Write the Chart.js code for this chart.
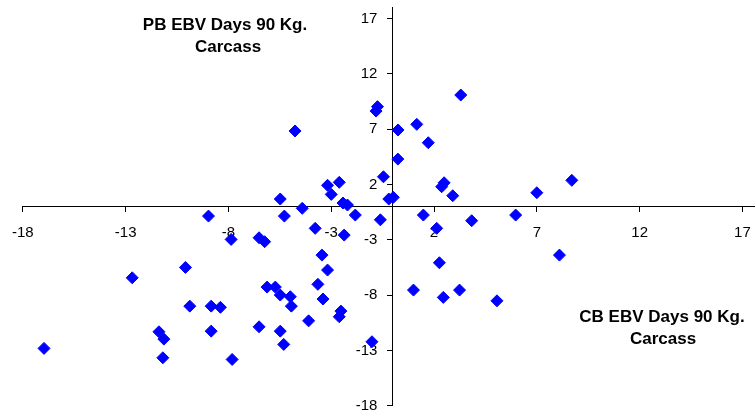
<!DOCTYPE html>
<html>
<head>
<meta charset="utf-8">
<script src="https://cdn.jsdelivr.net/npm/chart.js@4.4.0/dist/chart.umd.min.js"></script>
<style>
  html, body { margin: 0; padding: 0; background: #ffffff; overflow: hidden; }
  #wrap { width: 755px; height: 411px; position: relative; overflow: hidden; }
  #c { position: absolute; left: 0; top: -15px; }
</style>
</head>
<body>
<div id="wrap"><canvas id="c" width="770" height="450"></canvas></div>
<script>
// CB EBV (x) and PB EBV (y), Days to 90 Kg carcass
const cbEbv = [
  -4.76, -5.48, -8.97, -5.28, -4.41, -3.18, -3.00, -2.61, -2.43, -2.21,
  -1.83, -0.75, -0.82, -0.46, -0.61, -0.20, 0.02, 0.25, 0.24, 1.16,
  1.72, 1.48, 2.37, 2.49, 2.91, 3.30, 3.83, 5.97, 7.00, 8.70,
  8.10, 5.06, 3.24, -2.37, -3.45, -3.18, -3.65, -3.40, -2.53, -2.61,
  -1.02, 2.13, 2.26, 1.00, 2.45, -3.78, -7.87, -6.51, -6.24, -10.09,
  -6.12, -5.72, -5.48, -4.99, -4.94, -9.88, -8.84, -8.39, -4.10, -8.84,
  -6.51, -5.48, -5.31, -7.82, -12.68, -11.38, -11.14, -16.97, -11.19
];
const pbEbv = [
  6.83, 0.68, -0.86, -0.86, -0.16, 1.92, 1.10, 2.19, 0.32, 0.14,
  -0.77, 9.03, 8.63, 2.69, -1.20, 0.68, 0.83, 6.92, 4.29, 7.43,
  5.77, -0.77, 1.79, 2.15, 0.98, 10.08, -1.28, -0.77, 1.25, 2.37,
  -4.39, -8.52, -7.55, -2.58, -4.39, -5.74, -7.03, -8.36, -9.45, -9.96,
  -12.22, -1.97, -5.08, -7.55, -8.21, -1.97, -2.97, -2.82, -3.18, -5.50,
  -7.28, -7.28, -8.00, -8.15, -9.00, -9.00, -9.00, -9.11, -10.33, -11.26,
  -10.87, -11.26, -12.46, -13.82, -6.44, -11.32, -11.98, -12.82, -13.67
];
const tickValues = [-18, -13, -8, -3, 2, 7, 12, 17];
const yTitleLines = ['PB EBV Days 90 Kg.', 'Carcass'];
const xTitleLines = ['CB EBV Days 90 Kg.', 'Carcass'];

const points = cbEbv.map((x, i) => ({ x: x, y: pbEbv[i] }));
const FONT = 'Liberation Sans, Arial, sans-serif';
const OFF_Y = 15; // canvas is shifted up by this many pixels

const yLabelShift = {
  id: 'yLabelShift',
  beforeDraw(chart) {
    const ys = chart.scales.y;
    const ax = chart.scales.x.getPixelForValue(0);
    const items = ys.getLabelItems(chart.chartArea);
    items.forEach(it => {
      it.options.translation[0] = ax - 15.5;
      it.options.textAlign = 'right';
    });
  }
};

const titlesPlugin = {
  id: 'axisTitles',
  afterDraw(chart) {
    const ctx = chart.ctx;
    ctx.save();
    ctx.fillStyle = '#000000';
    ctx.font = 'bold 17px ' + FONT;
    ctx.textAlign = 'center';
    ctx.textBaseline = 'middle';
    ctx.fillText(yTitleLines[0], 225, 25 + OFF_Y);
    ctx.fillText(yTitleLines[1], 228, 47 + OFF_Y);
    ctx.fillText(xTitleLines[0], 662, 317 + OFF_Y);
    ctx.fillText(xTitleLines[1], 663, 339 + OFF_Y);
    ctx.restore();
  }
};

const setTicks = (scale) => { scale.ticks = tickValues.map(v => ({ value: v })); };

new Chart(document.getElementById('c'), {
  type: 'scatter',
  data: {
    datasets: [{
      data: points,
      pointStyle: 'rectRot',
      pointRadius: 6,
      pointHoverRadius: 6,
      backgroundColor: '#0000FF',
      borderColor: '#0000FF',
      borderWidth: 1
    }]
  },
  options: {
    responsive: false,
    animation: false,
    events: [],
    layout: { padding: { left: 22, right: 6.4, top: 7.4 + OFF_Y, bottom: 450 - 405.7 - OFF_Y } },
    plugins: { legend: { display: false }, tooltip: { enabled: false } },
    scales: {
      x: {
        type: 'linear',
        min: -18,
        max: 18,
        position: { y: 0 },
        afterBuildTicks: setTicks,
        grid: { drawOnChartArea: false, drawTicks: true, tickLength: 5, color: '#000000', lineWidth: 1 },
        border: { display: true, color: '#000000', width: 1 },
        ticks: { color: '#000000', font: { family: FONT, size: 15 }, padding: 12, maxRotation: 0, autoSkip: false }
      },
      y: {
        type: 'linear',
        min: -18,
        max: 18,
        position: { x: 0 },
        afterBuildTicks: setTicks,
        grid: { drawOnChartArea: false, drawTicks: true, tickLength: 5, color: '#000000', lineWidth: 1 },
        border: { display: true, color: '#000000', width: 1 },
        ticks: { color: '#000000', font: { family: FONT, size: 15 }, padding: 0, autoSkip: false }
      }
    }
  },
  plugins: [yLabelShift, titlesPlugin]
});
</script>
</body>
</html>
